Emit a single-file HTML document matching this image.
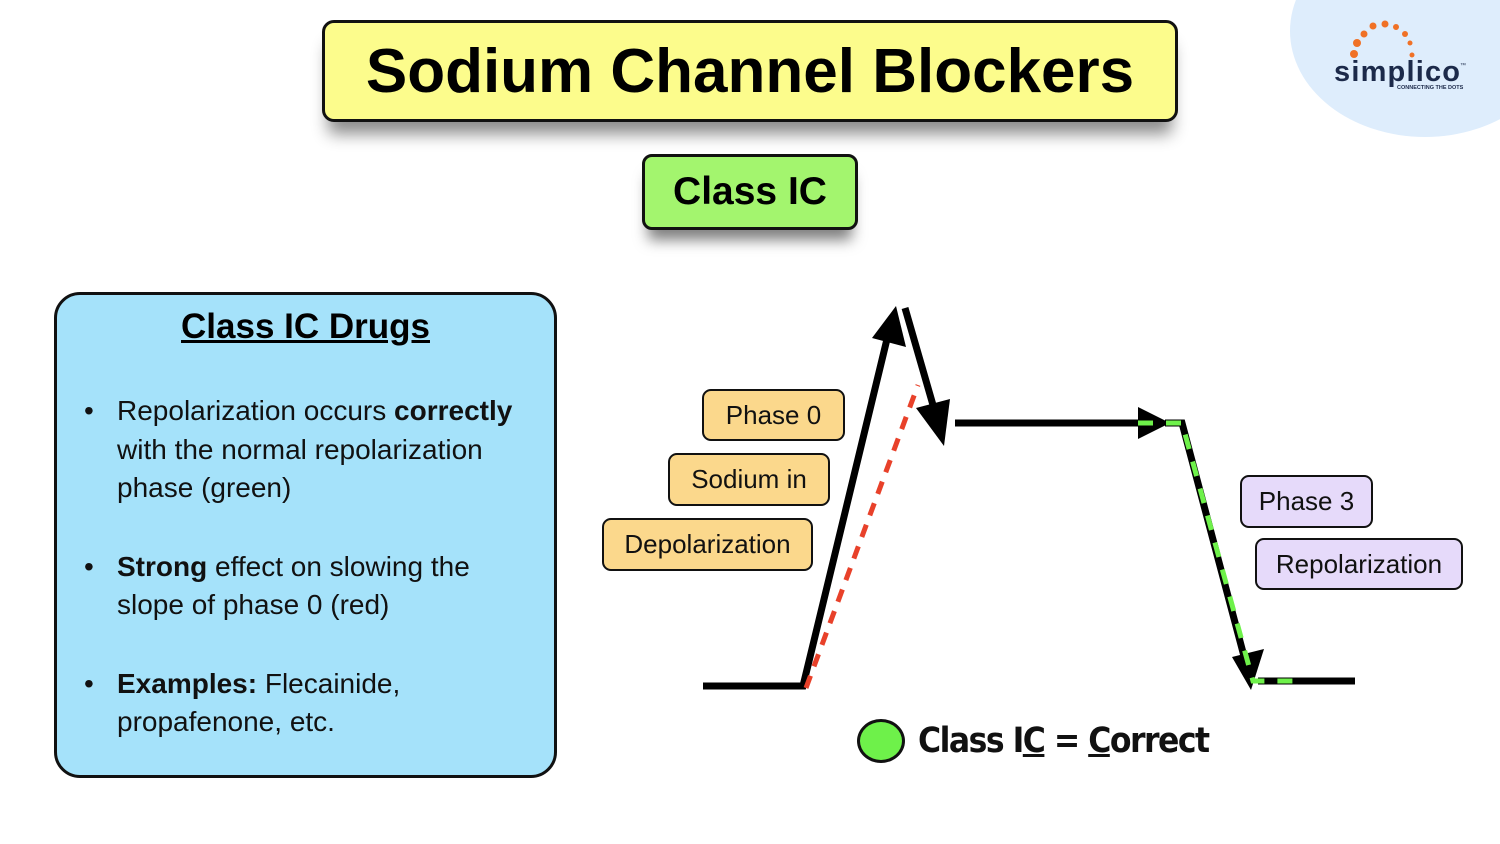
<!DOCTYPE html>
<html><head><meta charset="utf-8"><style>
body{margin:0;width:1500px;height:844px;background:#fff;position:relative;overflow:hidden;font-family:"Liberation Sans",sans-serif;}
.a{position:absolute;box-sizing:border-box;}
.tag{position:absolute;box-sizing:border-box;border:2px solid #111;border-radius:9px;font-size:26px;display:flex;align-items:center;justify-content:center;color:#111;}
.o{background:#fbd88c;} .p{background:#e6dafa;}
ul{margin:0;padding:0 28px 0 0;list-style:none;}
li{position:relative;padding-left:60px;font-size:28px;line-height:38.5px;color:#111;margin-bottom:40px;}
li:before{content:"•";position:absolute;left:27px;}
</style></head><body>
<div class="a" style="left:1290px;top:-75px;width:270px;height:212px;border-radius:50%;background:#deedfc;"></div>
<svg class="a" style="left:1330px;top:15px" width="160" height="80">
<g fill="#f07126"><circle cx="24" cy="39" r="4"/><circle cx="27" cy="28" r="4"/><circle cx="34" cy="19" r="3.5"/><circle cx="43" cy="11" r="3.5"/><circle cx="55" cy="9" r="3.5"/><circle cx="66" cy="12" r="3"/><circle cx="75" cy="19" r="3"/><circle cx="80" cy="28" r="2.5"/><circle cx="82" cy="40" r="2.5"/></g>
<text x="4" y="66" font-family="Liberation Sans" font-weight="bold" font-size="29" fill="#1c2a4a" textLength="126">simplico</text>
<text x="130" y="52" font-size="6" fill="#1c2a4a">™</text>
<text x="67" y="74" font-size="5.5" font-weight="bold" fill="#1c2a4a">CONNECTING THE DOTS</text>
</svg>
<div class="a" style="left:322px;top:20px;width:856px;height:102px;background:#fcfc8c;border:3px solid #111;border-radius:12px;box-shadow:0 18px 16px -6px rgba(0,0,0,.45);display:flex;align-items:center;justify-content:center;font-weight:bold;font-size:62px;color:#000;">Sodium Channel Blockers</div>
<div class="a" style="left:642px;top:154px;width:216px;height:76px;background:#a3f56e;border:3px solid #111;border-radius:10px;box-shadow:0 16px 14px -6px rgba(0,0,0,.5);display:flex;align-items:center;justify-content:center;font-weight:bold;font-size:39px;color:#000;">Class IC</div>
<div class="a" style="left:54px;top:292px;width:503px;height:486px;background:#a5e2fa;border:3px solid #111;border-radius:26px;">
<div style="text-align:center;font-weight:bold;font-size:35px;text-decoration:underline;margin-top:12px;margin-bottom:45px;">Class IC Drugs</div>
<ul>
<li>Repolarization occurs <b>correctly</b> with the normal repolarization phase (green)</li>
<li><b>Strong</b> effect on slowing the slope of phase 0 (red)</li>
<li><b>Examples:</b> Flecainide, propafenone, etc.</li>
</ul></div>
<svg class="a" style="left:0;top:0" width="1500" height="844">
<g stroke="#000" stroke-width="7" fill="none">
<polyline points="703,686 803,686 888,335"/>
<line x1="905" y1="308" x2="935" y2="412"/>
<line x1="955" y1="423" x2="1140" y2="423"/>
<polyline points="1165,423 1182,423 1245,660"/>
<line x1="1258" y1="681" x2="1355" y2="681"/>
</g>
<polygon points="896,306 906,347 872,338" fill="#000"/>
<polygon points="944,446 916,408 950,399" fill="#000"/>
<polygon points="1170,423 1138,407 1138,439" fill="#000"/>
<polygon points="1251,690 1232,657 1264,649" fill="#000"/>
<line x1="806" y1="688" x2="918" y2="385" stroke="#e8412a" stroke-width="5" stroke-dasharray="13,10"/>
<polyline points="1138,423 1182,423 1253,681 1300,681" stroke="#6ef14a" stroke-width="5" fill="none" stroke-dasharray="15,13"/>
</svg>
<div class="tag o" style="left:702px;top:389px;width:143px;height:52px;">Phase 0</div>
<div class="tag o" style="left:668px;top:453px;width:162px;height:53px;">Sodium in</div>
<div class="tag o" style="left:602px;top:518px;width:211px;height:53px;">Depolarization</div>
<div class="tag p" style="left:1240px;top:475px;width:133px;height:53px;">Phase 3</div>
<div class="tag p" style="left:1255px;top:538px;width:208px;height:52px;">Repolarization</div>
<div class="a" style="left:857px;top:719px;width:48px;height:44px;border-radius:50%;background:#6ef14a;border:3px solid #111;"></div>
<div class="a" style="left:918px;top:721px;font-size:35px;font-family:'DejaVu Sans Condensed','DejaVu Sans',sans-serif;font-weight:600;color:#111;letter-spacing:-1.5px;">Class I<u>C</u> = <u>C</u>orrect</div>
</body></html>
